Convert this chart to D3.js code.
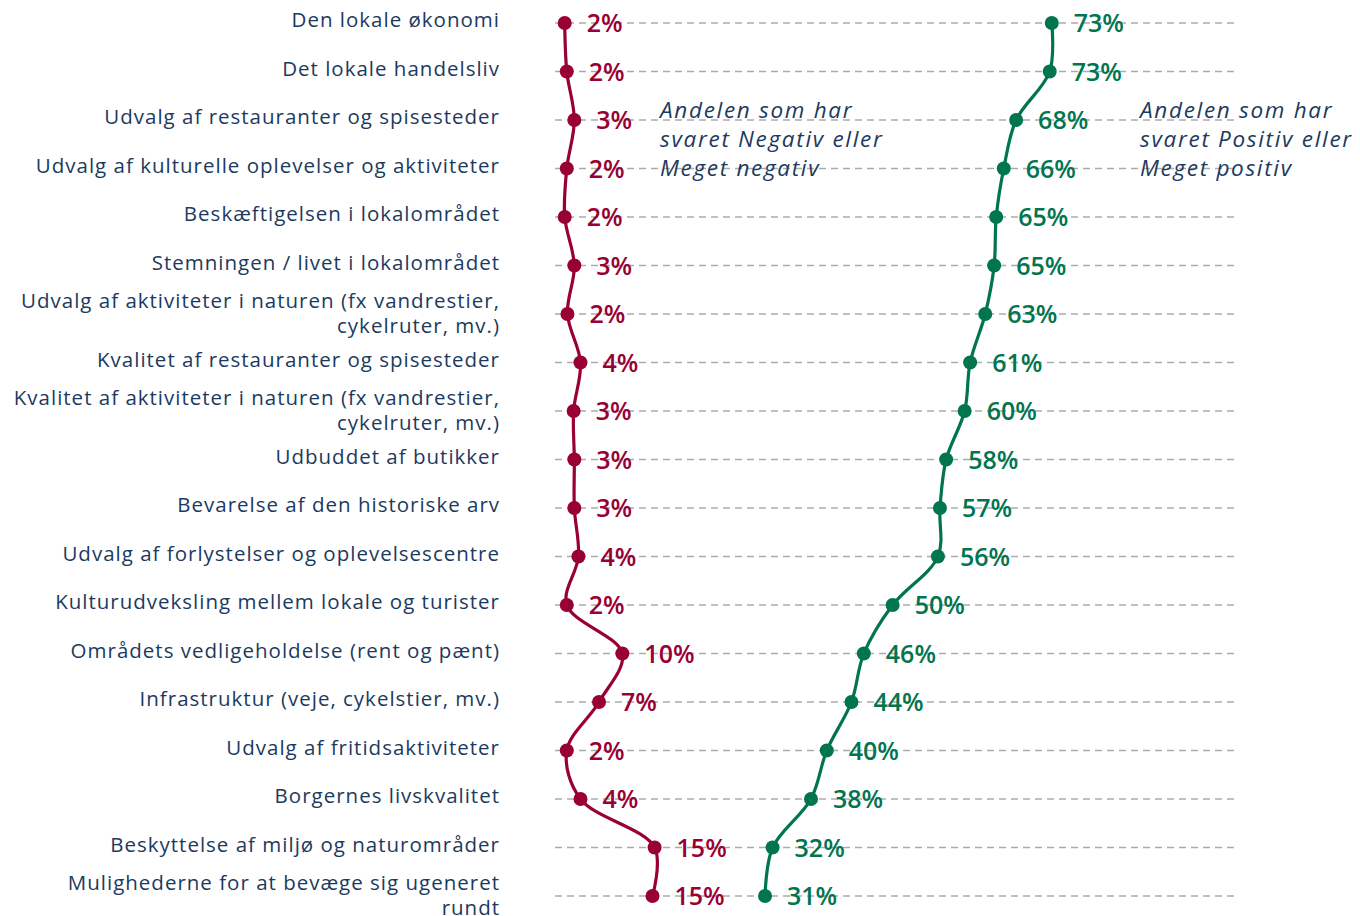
<!DOCTYPE html>
<html>
<head>
<meta charset="utf-8">
<script src="https://cdn.jsdelivr.net/npm/d3@7"></script>
<style>
  body { margin: 0; background: #fff; }
  svg { display: block; }
</style>
</head>
<body>
<script>
// categories (rows, top to bottom)
const categories = [
  "Den lokale økonomi",
  "Det lokale handelsliv",
  "Udvalg af restauranter og spisesteder",
  "Udvalg af kulturelle oplevelser og aktiviteter",
  "Beskæftigelsen i lokalområdet",
  "Stemningen / livet i lokalområdet",
  "Udvalg af aktiviteter i naturen (fx vandrestier,|cykelruter, mv.)",
  "Kvalitet af restauranter og spisesteder",
  "Kvalitet af aktiviteter i naturen (fx vandrestier,|cykelruter, mv.)",
  "Udbuddet af butikker",
  "Bevarelse af den historiske arv",
  "Udvalg af forlystelser og oplevelsescentre",
  "Kulturudveksling mellem lokale og turister",
  "Områdets vedligeholdelse (rent og pænt)",
  "Infrastruktur (veje, cykelstier, mv.)",
  "Udvalg af fritidsaktiviteter",
  "Borgernes livskvalitet",
  "Beskyttelse af miljø og naturområder",
  "Mulighederne for at bevæge sig ugeneret|rundt"
];

// share answering negative / very negative
const negative = [0.020, 0.023, 0.034, 0.023, 0.020, 0.034, 0.024, 0.043, 0.033, 0.034,
                  0.034, 0.040, 0.023, 0.104, 0.070, 0.023, 0.043, 0.151, 0.148];
// share answering positive / very positive
const positive = [0.730, 0.727, 0.678, 0.660, 0.649, 0.646, 0.633, 0.611, 0.603, 0.576,
                  0.567, 0.564, 0.498, 0.456, 0.438, 0.402, 0.379, 0.323, 0.312];

const negNote = ["Andelen som har", "svaret Negativ eller", "Meget negativ"];
const posNote = ["Andelen som har", "svaret Positiv eller", "Meget positiv"];

const width = 1360, height = 916;
const red = "#990033", green = "#00754f", navy = "#1c3a5e", grid = "#a9acae";
const font = "'Open Sans', sans-serif";

const svg = d3.select("body").append("svg")
  .attr("width", width)
  .attr("height", height);

const x = d3.scaleLinear().domain([0, 1]).range([551, 1237]);
const y = d3.scalePoint().domain(d3.range(categories.length)).range([23, 896]);

// dashed gridlines
svg.append("g")
  .selectAll("line")
  .data(categories)
  .join("line")
  .attr("x1", 555)
  .attr("x2", 1235)
  .attr("y1", (d, i) => y(i))
  .attr("y2", (d, i) => y(i))
  .attr("stroke", grid)
  .attr("stroke-width", 1.5)
  .attr("stroke-dasharray", "7,5");

// category labels
const cat = svg.append("g")
  .attr("font-family", font)
  .attr("font-size", 20.5)
  .attr("letter-spacing", 1)
  .attr("fill", navy)
  .attr("text-anchor", "end")
  .selectAll("text")
  .data(categories)
  .join("text")
  .attr("x", 500)
  .attr("y", (d, i) => y(i));
cat.each(function(d) {
  const lines = d.split("|");
  const t = d3.select(this);
  lines.forEach((l, j) => {
    t.append("tspan")
      .attr("x", 500)
      .attr("dy", j == 0 ? (lines.length > 1 ? -6 : 4) : 25)
      .text(l);
  });
});

// series
function drawSeries(values, color) {
  const line = d3.line()
    .x(d => x(d))
    .y((d, i) => y(i))
    .curve(d3.curveCatmullRom.alpha(0.5));
  const g = svg.append("g");
  g.append("path")
    .datum(values)
    .attr("d", line)
    .attr("fill", "none")
    .attr("stroke", color)
    .attr("stroke-width", 3.2);
  g.selectAll("circle")
    .data(values)
    .join("circle")
    .attr("cx", d => x(d))
    .attr("cy", (d, i) => y(i))
    .attr("r", 7)
    .attr("fill", color);
  g.selectAll("text")
    .data(values)
    .join("text")
    .attr("x", d => x(d) + 22)
    .attr("y", (d, i) => y(i) + 9)
    .attr("font-family", font)
    .attr("font-size", 25)
    .attr("font-weight", 600)
    .attr("fill", color)
    .text(d => d3.format(".0%")(d));
}
drawSeries(negative, red);
drawSeries(positive, green);

// notes
function note(lines, x0) {
  svg.append("g")
    .selectAll("text")
    .data(lines)
    .join("text")
    .attr("x", x0)
    .attr("y", (d, i) => 118 + i * 29)
    .attr("font-family", font)
    .attr("font-size", 22.5)
    .attr("letter-spacing", 1.7)
    .attr("font-style", "italic")
    .attr("fill", navy)
    .text(d => d);
}
note(negNote, 660);
note(posNote, 1140);
</script>
</body>
</html>
